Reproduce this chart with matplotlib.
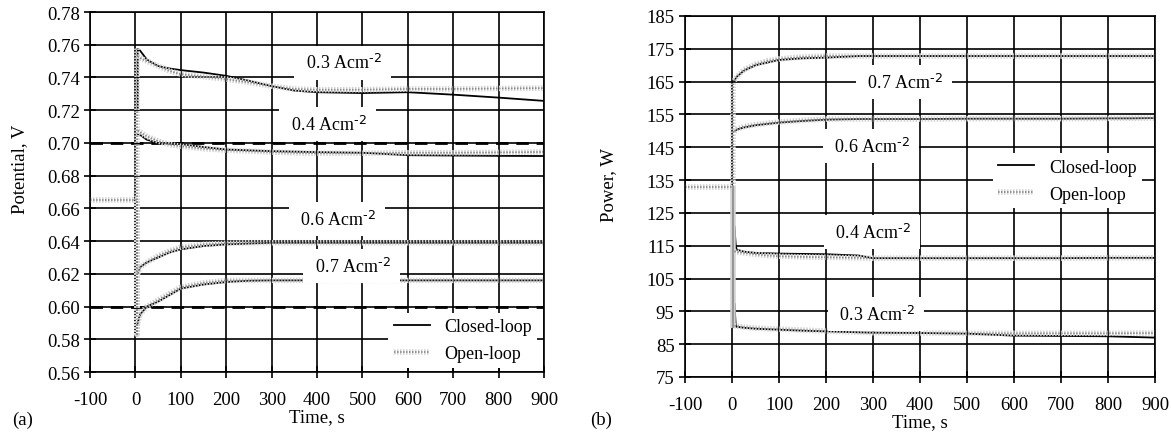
import matplotlib
matplotlib.use('Agg')
import matplotlib.pyplot as plt
import matplotlib.patheffects as pe
import numpy as np

plt.rcParams['font.family'] = ['Liberation Serif', 'DejaVu Serif']
plt.rcParams['mathtext.default'] = 'regular'
plt.rcParams['axes.unicode_minus'] = False
plt.rcParams['font.size'] = 13

# ---- panel (a): potential ----
t_a_pre = [-100, 3, 3, 3]
v_a_pre = [0.665, 0.665, 0.583, 0.758]

t_a = [5, 10, 25, 50, 75, 100, 150, 200, 250, 300, 350, 400, 500, 600, 700, 800, 900]
open_a = {
    '0.3': [0.753, 0.752, 0.750, 0.747, 0.744, 0.742, 0.7405, 0.739, 0.737, 0.7347, 0.733, 0.7325, 0.7325, 0.733, 0.733, 0.7333, 0.7335],
    '0.4': [0.7075, 0.7066, 0.704, 0.7011, 0.699, 0.698, 0.6965, 0.6956, 0.695, 0.6944, 0.694, 0.6937, 0.6937, 0.694, 0.694, 0.6942, 0.6945],
    '0.6': [0.620, 0.624, 0.627, 0.631, 0.634, 0.6363, 0.638, 0.6387, 0.639, 0.639, 0.639, 0.639, 0.639, 0.639, 0.639, 0.639, 0.639],
    '0.7': [0.590, 0.5953, 0.600, 0.604, 0.608, 0.6118, 0.6145, 0.616, 0.616, 0.616, 0.616, 0.616, 0.616, 0.616, 0.616, 0.616, 0.616],
}
t_a_cl = [5, 5, 10, 25, 50, 75, 100, 150, 200, 250, 300, 350, 400, 500, 600, 700, 800, 900]
closed_a = {
    '0.3': [0.720, 0.7575, 0.7565, 0.751, 0.747, 0.7455, 0.7445, 0.743, 0.741, 0.738, 0.7347, 0.732, 0.731, 0.7305, 0.731, 0.7295, 0.7277, 0.7257],
    '0.4': [0.7055, 0.7055, 0.705, 0.702, 0.700, 0.6995, 0.6993, 0.6975, 0.696, 0.6955, 0.695, 0.6947, 0.6944, 0.694, 0.6925, 0.6923, 0.6921, 0.692],
    '0.6': [0.620, 0.620, 0.624, 0.627, 0.630, 0.633, 0.635, 0.637, 0.638, 0.6385, 0.639, 0.639, 0.639, 0.639, 0.639, 0.639, 0.639, 0.639],
    '0.7': [0.590, 0.590, 0.595, 0.600, 0.603, 0.607, 0.611, 0.6135, 0.615, 0.6158, 0.616, 0.616, 0.616, 0.616, 0.616, 0.616, 0.616, 0.616],
}
setpoints_a = [0.70, 0.60]
labels_a = {'0.3': (456, 0.749), '0.4': (423, 0.7115), '0.6': (443, 0.6534), '0.7': (476, 0.6247)}

# ---- panel (b): power ----
t_b_pre = [-100, 3, 3, 3]
v_b_pre = [133, 133, 90, 165]

t_b = [5, 10, 25, 50, 75, 100, 150, 200, 300, 400, 500, 600, 700, 800, 900]
open_b = {
    '0.7': [165.3, 166.5, 168.6, 170.3, 171.3, 171.9, 172.5, 172.8, 172.8, 172.8, 172.8, 172.8, 172.8, 172.8, 172.8],
    '0.6': [149.8, 150.4, 151.3, 151.9, 152.3, 152.7, 153.2, 153.6, 153.6, 153.6, 153.7, 153.7, 153.7, 153.8, 153.9],
    '0.4': [113.3, 113.1, 112.8, 112.4, 112.0, 111.8, 111.6, 111.5, 111.2, 111.2, 111.2, 111.2, 111.2, 111.3, 111.3],
    '0.3': [90.6, 90.5, 90.2, 89.9, 89.7, 89.6, 89.3, 89.0, 88.5, 88.4, 88.3, 88.3, 88.3, 88.3, 88.4],
}
t_b_cl = [5, 5, 8, 10, 25, 50, 100, 150, 200, 270, 300, 400, 500, 600, 700, 800, 850, 900]
closed_b = {
    '0.7': [165.3, 165.3, 166.0, 166.5, 168.3, 170.0, 171.6, 172.1, 172.3, 172.8, 172.8, 172.8, 172.8, 172.8, 172.8, 172.8, 172.8, 172.8],
    '0.6': [149.8, 149.8, 150.2, 150.4, 151.0, 151.7, 152.5, 153.0, 153.4, 153.6, 153.6, 153.6, 153.7, 153.7, 153.7, 153.8, 153.8, 153.9],
    '0.4': [113.3, 121.0, 115.0, 113.8, 113.2, 112.8, 112.6, 112.5, 112.4, 112.0, 111.2, 111.2, 111.2, 111.2, 111.2, 111.3, 111.3, 111.3],
    '0.3': [90.6, 97.5, 90.5, 90.3, 90.0, 89.7, 89.4, 89.1, 88.9, 88.6, 88.5, 88.4, 88.2, 87.6, 87.5, 87.4, 87.2, 87.0],
}
labels_b = {'0.7': (366, 164.9), '0.6': (296, 145.4), '0.4': (298, 119.1), '0.3': (306, 94.1)}

x_ticks = list(range(-100, 1000, 100))
y_ticks_a = [0.56, 0.58, 0.60, 0.62, 0.64, 0.66, 0.68, 0.70, 0.72, 0.74, 0.76, 0.78]
y_ticks_b = [75, 85, 95, 105, 115, 125, 135, 145, 155, 165, 175, 185]

open_fx = [pe.Stroke(linewidth=4.0, foreground='#d2d2d2'), pe.Normal()]


def draw_open(ax, t, v):
    return ax.plot(t, v, color='#8a8a8a', lw=1.2, ls=(0, (0.9, 0.9)),
                   path_effects=open_fx, zorder=2.2)[0]


def setup(ax, yticks, ylabel, ylab_pos):
    ax.set_xlim(-100, 900)
    ax.set_ylim(yticks[0], yticks[-1])
    ax.set_xticks(x_ticks)
    ax.set_yticks(yticks)
    ax.grid(True, color='black', lw=1.2)
    for s in ax.spines.values():
        s.set_linewidth(1.2)
    ax.tick_params(direction='inout', length=9, width=1.2, labelsize=13.5)
    ax.tick_params(axis='x', pad=9)
    ax.tick_params(axis='y', pad=3)
    ax.set_xlabel('Time, s', fontsize=13.5, labelpad=0)
    ax.set_ylabel(ylabel, fontsize=13.5)
    ax.yaxis.set_label_coords(*ylab_pos)


def add_labels(ax, labels):
    for k, (x, y) in labels.items():
        ax.text(x, y, r' %s Acm$^{\text{-2}}$ ' % k, ha='center', va='center', fontsize=13,
                bbox=dict(boxstyle='square,pad=0.4', facecolor='white', edgecolor='none'),
                zorder=3)


def add_legend(ax, h_cl, h_op, anchor):
    ax.legend([h_cl, h_op], ['Closed-loop', 'Open-loop'], loc='lower right',
              bbox_to_anchor=anchor, borderaxespad=0, frameon=True, fancybox=False,
              edgecolor='none', facecolor='white', framealpha=1, handlelength=2.0,
              fontsize=13, borderpad=0.3, labelspacing=0.55)


fig = plt.figure(figsize=(11.71, 4.39), dpi=100)
ax1 = fig.add_axes([0.0769, 0.1503, 0.3877, 0.8200])
ax2 = fig.add_axes([0.585, 0.1390, 0.4013, 0.8223])

# (a)
setup(ax1, y_ticks_a, 'Potential, V', (-0.137, 0.565))
ax1.yaxis.set_major_formatter(matplotlib.ticker.FormatStrFormatter('%.2f'))
for sp in setpoints_a:
    ax1.axhline(sp, color='black', lw=2.0, ls=(0, (4.5, 2.8)), zorder=2.1)
for k in closed_a:
    h_cl = ax1.plot(t_a_cl, closed_a[k], color='black', lw=1.3, zorder=2.0)[0]
draw_open(ax1, t_a_pre, v_a_pre)
for k in open_a:
    h_op = draw_open(ax1, t_a, open_a[k])
add_labels(ax1, labels_a)
add_legend(ax1, h_cl, h_op, (0.985, 0.012))

# (b)
setup(ax2, y_ticks_b, 'Power, W', (-0.145, 0.535))
for k in closed_b:
    h_cl2 = ax2.plot(t_b_cl, closed_b[k], color='black', lw=1.3, zorder=2.0)[0]
draw_open(ax2, t_b_pre, v_b_pre)
for k in open_b:
    h_op2 = draw_open(ax2, t_b, open_b[k])
add_labels(ax2, labels_b)
add_legend(ax2, h_cl2, h_op2, (0.972, 0.468))

fig.text(12 / 1171, 1 - 420 / 439, '(a)', fontsize=13.5, va='center')
fig.text(590 / 1171, 1 - 420 / 439, '(b)', fontsize=13.5, va='center')

fig.savefig('out.png', dpi=100)
